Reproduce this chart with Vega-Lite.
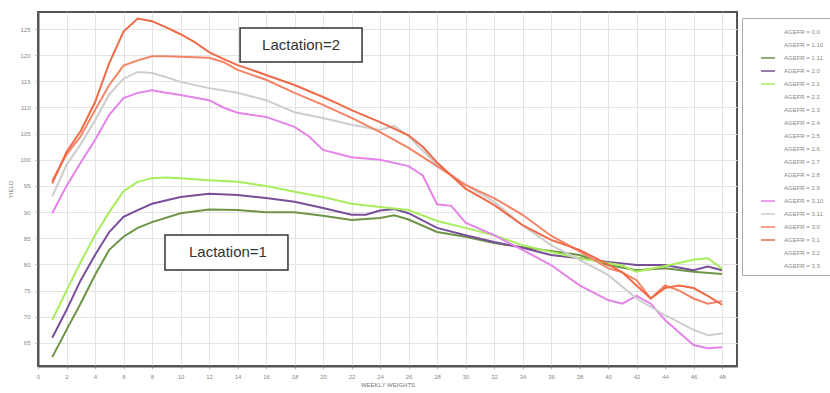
{
  "$schema": "https://vega.github.io/schema/vega-lite/v6.json",
  "width": 699,
  "height": 354,
  "autosize": {"type": "none"},
  "padding": {"left": 38, "top": 12, "right": 93, "bottom": 27},
  "background": "white",
  "config": {
    "view": {"stroke": "#555", "strokeWidth": 2},
    "axis": {"labelFontSize": 6, "labelColor": "#888", "titleColor": "#777", "titleFontSize": 6, "titleFontWeight": "normal", "gridColor": "#e3e3e3", "gridWidth": 1, "domainColor": "#555", "domainWidth": 2, "tickColor": "#bbb", "tickSize": 3, "labelFont": "Liberation Sans", "titleFont": "Liberation Sans"}
  },
  "layer": [
    {
      "data": {"values": [
        {"s":"AGEFR = 1.11","w":1,"v":62.3},{"s":"AGEFR = 1.11","w":2,"v":67.5},{"s":"AGEFR = 1.11","w":3,"v":72.6},{"s":"AGEFR = 1.11","w":4,"v":78},{"s":"AGEFR = 1.11","w":5,"v":82.8},{"s":"AGEFR = 1.11","w":6,"v":85.3},{"s":"AGEFR = 1.11","w":7,"v":87},{"s":"AGEFR = 1.11","w":8,"v":88.1},{"s":"AGEFR = 1.11","w":10,"v":89.8},{"s":"AGEFR = 1.11","w":12,"v":90.5},{"s":"AGEFR = 1.11","w":14,"v":90.4},{"s":"AGEFR = 1.11","w":16,"v":90},{"s":"AGEFR = 1.11","w":18,"v":90},{"s":"AGEFR = 1.11","w":20,"v":89.3},{"s":"AGEFR = 1.11","w":22,"v":88.5},{"s":"AGEFR = 1.11","w":24,"v":88.9},{"s":"AGEFR = 1.11","w":25,"v":89.4},{"s":"AGEFR = 1.11","w":26,"v":88.6},{"s":"AGEFR = 1.11","w":28,"v":86.2},{"s":"AGEFR = 1.11","w":30,"v":85.3},{"s":"AGEFR = 1.11","w":32,"v":84.1},{"s":"AGEFR = 1.11","w":34,"v":83.3},{"s":"AGEFR = 1.11","w":36,"v":82.6},{"s":"AGEFR = 1.11","w":38,"v":81.8},{"s":"AGEFR = 1.11","w":40,"v":79.9},{"s":"AGEFR = 1.11","w":42,"v":78.9},{"s":"AGEFR = 1.11","w":44,"v":79.3},{"s":"AGEFR = 1.11","w":46,"v":78.6},{"s":"AGEFR = 1.11","w":48,"v":78.2},

        {"s":"AGEFR = 2.0","w":1,"v":66},{"s":"AGEFR = 2.0","w":2,"v":71.3},{"s":"AGEFR = 2.0","w":3,"v":77},{"s":"AGEFR = 2.0","w":4,"v":81.8},{"s":"AGEFR = 2.0","w":5,"v":86.2},{"s":"AGEFR = 2.0","w":6,"v":89.1},{"s":"AGEFR = 2.0","w":7,"v":90.4},{"s":"AGEFR = 2.0","w":8,"v":91.6},{"s":"AGEFR = 2.0","w":10,"v":92.9},{"s":"AGEFR = 2.0","w":12,"v":93.5},{"s":"AGEFR = 2.0","w":14,"v":93.3},{"s":"AGEFR = 2.0","w":16,"v":92.7},{"s":"AGEFR = 2.0","w":18,"v":92},{"s":"AGEFR = 2.0","w":20,"v":90.8},{"s":"AGEFR = 2.0","w":22,"v":89.5},{"s":"AGEFR = 2.0","w":23,"v":89.5},{"s":"AGEFR = 2.0","w":24,"v":90.3},{"s":"AGEFR = 2.0","w":25,"v":90.6},{"s":"AGEFR = 2.0","w":26,"v":89.8},{"s":"AGEFR = 2.0","w":28,"v":87},{"s":"AGEFR = 2.0","w":30,"v":85.6},{"s":"AGEFR = 2.0","w":32,"v":84.3},{"s":"AGEFR = 2.0","w":34,"v":83.2},{"s":"AGEFR = 2.0","w":36,"v":81.8},{"s":"AGEFR = 2.0","w":38,"v":81.2},{"s":"AGEFR = 2.0","w":40,"v":80.5},{"s":"AGEFR = 2.0","w":42,"v":79.9},{"s":"AGEFR = 2.0","w":44,"v":79.9},{"s":"AGEFR = 2.0","w":46,"v":78.9},{"s":"AGEFR = 2.0","w":47,"v":79.6},{"s":"AGEFR = 2.0","w":48,"v":78.9},

        {"s":"AGEFR = 2.1","w":1,"v":69.4},{"s":"AGEFR = 2.1","w":2,"v":75},{"s":"AGEFR = 2.1","w":3,"v":80.5},{"s":"AGEFR = 2.1","w":4,"v":85.6},{"s":"AGEFR = 2.1","w":5,"v":90},{"s":"AGEFR = 2.1","w":6,"v":94},{"s":"AGEFR = 2.1","w":7,"v":95.8},{"s":"AGEFR = 2.1","w":8,"v":96.5},{"s":"AGEFR = 2.1","w":9,"v":96.6},{"s":"AGEFR = 2.1","w":10,"v":96.5},{"s":"AGEFR = 2.1","w":12,"v":96.1},{"s":"AGEFR = 2.1","w":14,"v":95.8},{"s":"AGEFR = 2.1","w":16,"v":95},{"s":"AGEFR = 2.1","w":18,"v":93.9},{"s":"AGEFR = 2.1","w":20,"v":92.9},{"s":"AGEFR = 2.1","w":22,"v":91.6},{"s":"AGEFR = 2.1","w":24,"v":91},{"s":"AGEFR = 2.1","w":26,"v":90.4},{"s":"AGEFR = 2.1","w":28,"v":88.3},{"s":"AGEFR = 2.1","w":30,"v":87},{"s":"AGEFR = 2.1","w":32,"v":85.6},{"s":"AGEFR = 2.1","w":34,"v":83.7},{"s":"AGEFR = 2.1","w":36,"v":82.4},{"s":"AGEFR = 2.1","w":38,"v":81.2},{"s":"AGEFR = 2.1","w":40,"v":80.3},{"s":"AGEFR = 2.1","w":41,"v":79.8},{"s":"AGEFR = 2.1","w":42,"v":78.6},{"s":"AGEFR = 2.1","w":44,"v":79.7},{"s":"AGEFR = 2.1","w":46,"v":80.9},{"s":"AGEFR = 2.1","w":47,"v":81.2},{"s":"AGEFR = 2.1","w":48,"v":79.2},

        {"s":"AGEFR = 3.10","w":1,"v":89.8},{"s":"AGEFR = 3.10","w":2,"v":95},{"s":"AGEFR = 3.10","w":3,"v":99.5},{"s":"AGEFR = 3.10","w":4,"v":103.8},{"s":"AGEFR = 3.10","w":5,"v":108.6},{"s":"AGEFR = 3.10","w":6,"v":111.8},{"s":"AGEFR = 3.10","w":7,"v":112.8},{"s":"AGEFR = 3.10","w":8,"v":113.3},{"s":"AGEFR = 3.10","w":9,"v":112.8},{"s":"AGEFR = 3.10","w":10,"v":112.4},{"s":"AGEFR = 3.10","w":12,"v":111.4},{"s":"AGEFR = 3.10","w":13,"v":110},{"s":"AGEFR = 3.10","w":14,"v":109},{"s":"AGEFR = 3.10","w":16,"v":108.2},{"s":"AGEFR = 3.10","w":18,"v":106.3},{"s":"AGEFR = 3.10","w":19,"v":104.5},{"s":"AGEFR = 3.10","w":20,"v":101.9},{"s":"AGEFR = 3.10","w":22,"v":100.5},{"s":"AGEFR = 3.10","w":24,"v":100},{"s":"AGEFR = 3.10","w":26,"v":98.8},{"s":"AGEFR = 3.10","w":27,"v":97},{"s":"AGEFR = 3.10","w":28,"v":91.5},{"s":"AGEFR = 3.10","w":29,"v":91.2},{"s":"AGEFR = 3.10","w":30,"v":88},{"s":"AGEFR = 3.10","w":32,"v":85.6},{"s":"AGEFR = 3.10","w":34,"v":82.8},{"s":"AGEFR = 3.10","w":36,"v":79.9},{"s":"AGEFR = 3.10","w":38,"v":76},{"s":"AGEFR = 3.10","w":40,"v":73.2},{"s":"AGEFR = 3.10","w":41,"v":72.5},{"s":"AGEFR = 3.10","w":42,"v":74},{"s":"AGEFR = 3.10","w":43,"v":72.5},{"s":"AGEFR = 3.10","w":44,"v":69.4},{"s":"AGEFR = 3.10","w":46,"v":64.6},{"s":"AGEFR = 3.10","w":47,"v":64},{"s":"AGEFR = 3.10","w":48,"v":64.2},

        {"s":"AGEFR = 3.11","w":1,"v":93},{"s":"AGEFR = 3.11","w":2,"v":99},{"s":"AGEFR = 3.11","w":3,"v":103},{"s":"AGEFR = 3.11","w":4,"v":107.5},{"s":"AGEFR = 3.11","w":5,"v":112.5},{"s":"AGEFR = 3.11","w":6,"v":115.5},{"s":"AGEFR = 3.11","w":7,"v":116.8},{"s":"AGEFR = 3.11","w":8,"v":116.6},{"s":"AGEFR = 3.11","w":9,"v":115.8},{"s":"AGEFR = 3.11","w":10,"v":114.9},{"s":"AGEFR = 3.11","w":12,"v":113.7},{"s":"AGEFR = 3.11","w":14,"v":112.8},{"s":"AGEFR = 3.11","w":16,"v":111.4},{"s":"AGEFR = 3.11","w":18,"v":109.1},{"s":"AGEFR = 3.11","w":20,"v":108},{"s":"AGEFR = 3.11","w":22,"v":106.7},{"s":"AGEFR = 3.11","w":24,"v":105.7},{"s":"AGEFR = 3.11","w":25,"v":106.5},{"s":"AGEFR = 3.11","w":26,"v":104.5},{"s":"AGEFR = 3.11","w":28,"v":99},{"s":"AGEFR = 3.11","w":30,"v":95.2},{"s":"AGEFR = 3.11","w":32,"v":92},{"s":"AGEFR = 3.11","w":34,"v":87.5},{"s":"AGEFR = 3.11","w":36,"v":83.7},{"s":"AGEFR = 3.11","w":38,"v":80.9},{"s":"AGEFR = 3.11","w":40,"v":78},{"s":"AGEFR = 3.11","w":42,"v":73.5},{"s":"AGEFR = 3.11","w":44,"v":70.3},{"s":"AGEFR = 3.11","w":46,"v":67.5},{"s":"AGEFR = 3.11","w":47,"v":66.5},{"s":"AGEFR = 3.11","w":48,"v":66.8},

        {"s":"AGEFR = 3.0","w":1,"v":96},{"s":"AGEFR = 3.0","w":2,"v":101},{"s":"AGEFR = 3.0","w":3,"v":104.5},{"s":"AGEFR = 3.0","w":4,"v":109.5},{"s":"AGEFR = 3.0","w":5,"v":114.3},{"s":"AGEFR = 3.0","w":6,"v":118},{"s":"AGEFR = 3.0","w":7,"v":119},{"s":"AGEFR = 3.0","w":8,"v":119.8},{"s":"AGEFR = 3.0","w":9,"v":119.8},{"s":"AGEFR = 3.0","w":10,"v":119.7},{"s":"AGEFR = 3.0","w":11,"v":119.6},{"s":"AGEFR = 3.0","w":12,"v":119.5},{"s":"AGEFR = 3.0","w":13,"v":118.7},{"s":"AGEFR = 3.0","w":14,"v":117.2},{"s":"AGEFR = 3.0","w":16,"v":115.3},{"s":"AGEFR = 3.0","w":18,"v":112.8},{"s":"AGEFR = 3.0","w":20,"v":110.5},{"s":"AGEFR = 3.0","w":22,"v":108},{"s":"AGEFR = 3.0","w":24,"v":105.3},{"s":"AGEFR = 3.0","w":26,"v":102.3},{"s":"AGEFR = 3.0","w":28,"v":98.8},{"s":"AGEFR = 3.0","w":30,"v":95.2},{"s":"AGEFR = 3.0","w":32,"v":92.7},{"s":"AGEFR = 3.0","w":34,"v":89.5},{"s":"AGEFR = 3.0","w":36,"v":85.5},{"s":"AGEFR = 3.0","w":38,"v":82.5},{"s":"AGEFR = 3.0","w":40,"v":79.3},{"s":"AGEFR = 3.0","w":41,"v":78.5},{"s":"AGEFR = 3.0","w":42,"v":77},{"s":"AGEFR = 3.0","w":43,"v":73.5},{"s":"AGEFR = 3.0","w":44,"v":76},{"s":"AGEFR = 3.0","w":45,"v":75},{"s":"AGEFR = 3.0","w":46,"v":73.5},{"s":"AGEFR = 3.0","w":47,"v":72.5},{"s":"AGEFR = 3.0","w":48,"v":73},

        {"s":"AGEFR = 3.1","w":1,"v":95.5},{"s":"AGEFR = 3.1","w":2,"v":101.5},{"s":"AGEFR = 3.1","w":3,"v":105.5},{"s":"AGEFR = 3.1","w":4,"v":111},{"s":"AGEFR = 3.1","w":5,"v":118.5},{"s":"AGEFR = 3.1","w":6,"v":124.5},{"s":"AGEFR = 3.1","w":7,"v":127},{"s":"AGEFR = 3.1","w":8,"v":126.5},{"s":"AGEFR = 3.1","w":9,"v":125.3},{"s":"AGEFR = 3.1","w":10,"v":124},{"s":"AGEFR = 3.1","w":11,"v":122.5},{"s":"AGEFR = 3.1","w":12,"v":120.6},{"s":"AGEFR = 3.1","w":13,"v":119.3},{"s":"AGEFR = 3.1","w":14,"v":118.1},{"s":"AGEFR = 3.1","w":15,"v":117.2},{"s":"AGEFR = 3.1","w":16,"v":116.2},{"s":"AGEFR = 3.1","w":18,"v":114.3},{"s":"AGEFR = 3.1","w":20,"v":112},{"s":"AGEFR = 3.1","w":21,"v":110.8},{"s":"AGEFR = 3.1","w":22,"v":109.5},{"s":"AGEFR = 3.1","w":24,"v":107.2},{"s":"AGEFR = 3.1","w":26,"v":104.7},{"s":"AGEFR = 3.1","w":27,"v":102.5},{"s":"AGEFR = 3.1","w":28,"v":99.5},{"s":"AGEFR = 3.1","w":30,"v":94.5},{"s":"AGEFR = 3.1","w":32,"v":91.4},{"s":"AGEFR = 3.1","w":34,"v":87.5},{"s":"AGEFR = 3.1","w":36,"v":84.7},{"s":"AGEFR = 3.1","w":38,"v":82.8},{"s":"AGEFR = 3.1","w":40,"v":80},{"s":"AGEFR = 3.1","w":41,"v":78.5},{"s":"AGEFR = 3.1","w":42,"v":76},{"s":"AGEFR = 3.1","w":43,"v":73.5},{"s":"AGEFR = 3.1","w":44,"v":75.5},{"s":"AGEFR = 3.1","w":45,"v":76},{"s":"AGEFR = 3.1","w":46,"v":75.5},{"s":"AGEFR = 3.1","w":47,"v":74},{"s":"AGEFR = 3.1","w":48,"v":72.3}
      ]},
      "mark": {"type": "line", "strokeWidth": 2, "clip": true},
      "encoding": {
        "x": {"field": "w", "type": "quantitative", "scale": {"domain": [0, 49.05], "nice": false, "zero": false},
              "axis": {"values": [0,2,4,6,8,10,12,14,16,18,20,22,24,26,28,30,32,34,36,38,40,42,44,46,48], "tickCount": 60, "labelOverlap": false, "labelFlush": false, "title": "WEEKLY WEIGHTS", "titlePadding": 2, "labelPadding": 4}},
        "y": {"field": "v", "type": "quantitative", "scale": {"domain": [60.6, 128.25], "nice": false, "zero": false},
              "axis": {"values": [65,70,75,80,85,90,95,100,105,110,115,120,125], "tickCount": 30, "labelOverlap": false, "labelFlush": false, "title": "YIELD", "titlePadding": 6, "labelPadding": 5}},
        "color": {"field": "s", "type": "nominal",
          "scale": {
            "domain": ["AGEFR = 0.0","AGEFR = 1.10","AGEFR = 1.11","AGEFR = 2.0","AGEFR = 2.1","AGEFR = 2.2","AGEFR = 2.3","AGEFR = 2.4","AGEFR = 2.5","AGEFR = 2.6","AGEFR = 2.7","AGEFR = 2.8","AGEFR = 2.9","AGEFR = 3.10","AGEFR = 3.11","AGEFR = 3.0","AGEFR = 3.1","AGEFR = 3.2","AGEFR = 3.3"],
            "range": ["transparent","transparent","#6e9447","#7a4f9a","#a8ee5c","transparent","transparent","transparent","transparent","transparent","transparent","transparent","transparent","#e483ea","#cdcdcd","#f58466","#ef6a48","transparent","transparent"]
          },
          "legend": {"orient": "none", "legendX": 704, "legendY": 6, "title": null, "symbolType": "stroke", "symbolSize": 196, "symbolStrokeWidth": 1.5, "labelFontSize": 6, "labelColor": "#888", "labelFont": "Liberation Sans", "rowPadding": 2, "padding": 6, "strokeColor": "#aaa", "fillColor": "white", "labelLimit": 80, "labelOffset": 8, "symbolOffset": 12}
        }
      }
    },
    {
      "data": {"values": [{}]},
      "mark": {"type": "rect", "fill": "white", "stroke": "#333", "strokeWidth": 1.5},
      "encoding": {"x": {"datum": 14.18}, "x2": {"datum": 22.74}, "y": {"datum": 125.19}, "y2": {"datum": 118.69}}
    },
    {
      "data": {"values": [{}]},
      "mark": {"type": "text", "text": "Lactation=2", "fontSize": 15, "font": "Liberation Sans", "color": "#333", "align": "center", "baseline": "middle"},
      "encoding": {"x": {"datum": 18.46}, "y": {"datum": 121.94}}
    },
    {
      "data": {"values": [{}]},
      "mark": {"type": "rect", "fill": "white", "stroke": "#333", "strokeWidth": 1.5},
      "encoding": {"x": {"datum": 8.91}, "x2": {"datum": 17.54}, "y": {"datum": 85.63}, "y2": {"datum": 78.95}}
    },
    {
      "data": {"values": [{}]},
      "mark": {"type": "text", "text": "Lactation=1", "fontSize": 15, "font": "Liberation Sans", "color": "#333", "align": "center", "baseline": "middle"},
      "encoding": {"x": {"datum": 13.33}, "y": {"datum": 82.39}}
    }
  ]
}
